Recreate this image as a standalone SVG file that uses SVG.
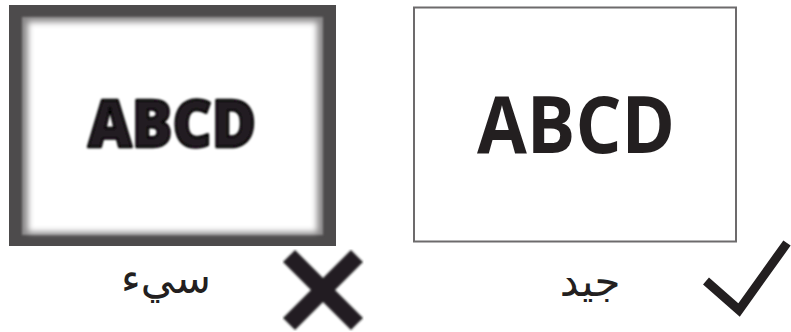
<svg xmlns="http://www.w3.org/2000/svg" width="791" height="332" viewBox="0 0 791 332">
<defs>
<filter id="blur3" x="-10%" y="-10%" width="120%" height="120%"><feGaussianBlur stdDeviation="3"/></filter>
<filter id="blur1" x="-10%" y="-10%" width="120%" height="120%"><feGaussianBlur stdDeviation="1.2"/></filter>
</defs>
<style>
.abcd{font-family:"Open Sans","Liberation Sans",sans-serif;font-weight:bold;fill:#231f20}
.ar{font-family:"DejaVu Sans","Noto Sans",sans-serif;fill:#231f20;font-size:42px}
.mark{fill:none;stroke:#231f20;stroke-linecap:butt}
</style>
<rect width="791" height="332" fill="#fff"/>
<g id="bad">
<rect x="9" y="5" width="327" height="241" fill="#4d4b4c"/>
<rect x="22" y="17" width="301" height="218" fill="#8a8889" filter="url(#blur1)"/>
<rect x="28" y="22" width="289" height="210" fill="#fff" filter="url(#blur3)"/>
<text class="abcd" x="88" y="147" font-size="66" textLength="168" lengthAdjust="spacingAndGlyphs" fill="#000" stroke="#000" stroke-width="2.5" stroke-linejoin="round" style="font-weight:800" filter="url(#blur1)">ABCD</text>
</g>
<g id="good">
<rect x="414" y="7.5" width="322" height="234" fill="#fff" stroke="#6d6b6c" stroke-width="2"/>
<text class="abcd" x="477" y="153" font-size="78" textLength="198" lengthAdjust="spacingAndGlyphs">ABCD</text>
</g>
<g id="bad-label">
<text class="ar" x="166" y="293" text-anchor="middle" direction="rtl">سيء</text>
<path class="mark" d="M289 256 L357 324 M357 256 L289 324" stroke-width="17" filter="url(#blur1)"/>
</g>
<g id="good-label">
<text class="ar" x="590" y="296" text-anchor="middle" direction="rtl">جيد</text>
<path class="mark" d="M706 281 L739 310 L787 243" stroke-width="9"/>
</g>
</svg>
